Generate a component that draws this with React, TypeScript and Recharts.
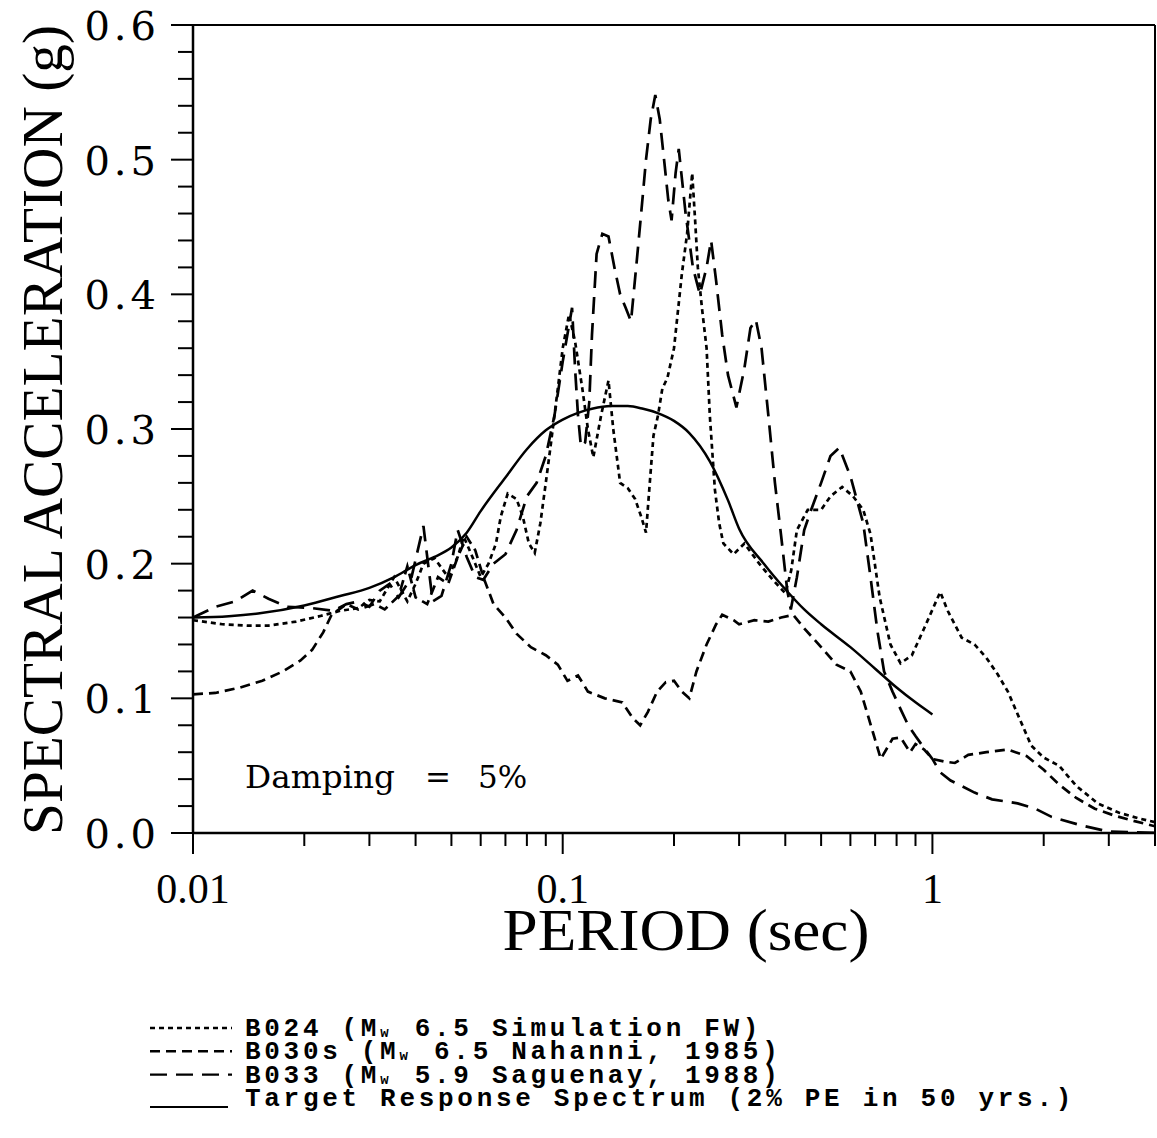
import React from 'react'
import { LineChart, Line, XAxis, YAxis, ReferenceLine, Customized } from 'recharts'

const W = 1157
const H = 1138

// B024 (Mw 6.5 Simulation FW) - dotted
const b024Period = [
  0.01, 0.012, 0.014, 0.016, 0.019, 0.022, 0.025, 0.028, 0.03, 0.032,
  0.035, 0.038, 0.04, 0.042, 0.045, 0.049, 0.052, 0.054, 0.057, 0.06,
  0.063, 0.066, 0.068, 0.071, 0.075, 0.078, 0.081, 0.084, 0.087, 0.09,
  0.093, 0.097, 0.1, 0.104, 0.108, 0.113, 0.117, 0.121, 0.127, 0.133,
  0.137, 0.143, 0.15, 0.157, 0.163, 0.168, 0.172, 0.176, 0.181, 0.186,
  0.192, 0.2, 0.21, 0.217, 0.224, 0.228, 0.232, 0.238, 0.245, 0.25,
  0.258, 0.265, 0.272, 0.29, 0.31, 0.34, 0.37, 0.4, 0.415, 0.43,
  0.46, 0.5, 0.53, 0.57, 0.61, 0.65, 0.68, 0.72, 0.77, 0.82,
  0.88, 0.95, 1.05, 1.1, 1.2, 1.3, 1.4, 1.5, 1.6, 1.72,
  1.85, 2.0, 2.2, 2.45, 2.8, 3.2, 3.6, 4.0,
]
const b024Sa = [
  0.158, 0.155, 0.154, 0.154, 0.157, 0.161, 0.165, 0.167, 0.173, 0.172,
  0.19, 0.172, 0.185, 0.2, 0.204, 0.19, 0.205, 0.22, 0.205, 0.19,
  0.2, 0.215, 0.235, 0.252, 0.248, 0.235, 0.215, 0.208, 0.23, 0.26,
  0.29, 0.33, 0.36, 0.385, 0.365, 0.33, 0.3, 0.279, 0.31, 0.336,
  0.3, 0.26, 0.256, 0.248, 0.235, 0.223, 0.26, 0.295, 0.31, 0.33,
  0.338, 0.36, 0.415, 0.445, 0.49, 0.456, 0.42, 0.39, 0.36, 0.31,
  0.255, 0.23, 0.215, 0.207, 0.215, 0.2, 0.188, 0.178, 0.195, 0.225,
  0.24, 0.24, 0.25, 0.257, 0.25, 0.24, 0.222, 0.175, 0.14, 0.126,
  0.132, 0.152, 0.179, 0.165, 0.145, 0.14, 0.13, 0.118, 0.105, 0.085,
  0.065, 0.056, 0.05, 0.035, 0.022, 0.015, 0.011, 0.008,
]

// B030s (Mw 6.5 Nahanni, 1985) - medium dashes
const b030Period = [
  0.01, 0.0115, 0.0134, 0.0154, 0.0175, 0.0195, 0.021, 0.0225, 0.0237, 0.026,
  0.028, 0.031, 0.033, 0.036, 0.038, 0.04, 0.043, 0.046, 0.049, 0.052,
  0.055, 0.058, 0.061, 0.065, 0.07, 0.075, 0.082, 0.09, 0.097, 0.103,
  0.11, 0.117, 0.13, 0.145, 0.155, 0.162, 0.17, 0.18, 0.19, 0.2,
  0.21, 0.22, 0.23, 0.245, 0.26, 0.27, 0.29, 0.3, 0.33, 0.36,
  0.39, 0.42, 0.45, 0.5, 0.55, 0.6, 0.64, 0.69, 0.725, 0.78,
  0.82, 0.87, 0.9, 0.95, 1.0, 1.08, 1.15, 1.25, 1.4, 1.6,
  1.8, 2.0, 2.2, 2.45, 2.75, 3.1, 3.5, 4.0,
]
const b030Sa = [
  0.103, 0.104, 0.108, 0.113, 0.12, 0.128, 0.136, 0.149, 0.162, 0.17,
  0.166, 0.17, 0.166, 0.176, 0.198, 0.175, 0.17, 0.19, 0.185, 0.205,
  0.22, 0.21, 0.19, 0.17, 0.16, 0.148, 0.138, 0.132, 0.125, 0.113,
  0.117, 0.105, 0.1, 0.097, 0.085, 0.08, 0.09, 0.105, 0.112, 0.113,
  0.105, 0.1, 0.12, 0.14, 0.155, 0.162, 0.158, 0.155, 0.158, 0.157,
  0.16, 0.162, 0.152, 0.138, 0.125, 0.12, 0.105, 0.075, 0.055, 0.07,
  0.071, 0.06, 0.066, 0.062, 0.055, 0.053, 0.052, 0.058, 0.06, 0.062,
  0.057, 0.047, 0.036, 0.026, 0.018, 0.013, 0.009, 0.005,
]

// B033 (Mw 5.9 Saguenay, 1988) - long dashes
const b033Period = [
  0.01, 0.0115, 0.013, 0.0145, 0.016, 0.018, 0.021, 0.024, 0.026, 0.028,
  0.03, 0.032, 0.034, 0.036, 0.039, 0.042, 0.0445, 0.047, 0.05, 0.052,
  0.055, 0.058, 0.061, 0.065, 0.07, 0.075, 0.08, 0.085, 0.09, 0.095,
  0.1, 0.106, 0.108, 0.11, 0.112, 0.115, 0.118, 0.12, 0.1235, 0.128,
  0.133, 0.138, 0.143, 0.148, 0.153, 0.158, 0.163, 0.168, 0.173, 0.178,
  0.183, 0.188, 0.193, 0.197, 0.202, 0.206, 0.215, 0.225, 0.235, 0.245,
  0.252, 0.26, 0.27, 0.28, 0.295, 0.31, 0.322, 0.333, 0.345, 0.36,
  0.375, 0.39, 0.405, 0.414, 0.43, 0.45, 0.47, 0.5, 0.53, 0.56,
  0.6, 0.65, 0.68, 0.71, 0.74, 0.78, 0.82, 0.86, 0.9, 0.95,
  1.0, 1.05, 1.12, 1.3, 1.45, 1.7, 1.9, 2.1, 2.5, 3.0, 4.0,
]
const b033Sa = [
  0.16, 0.168, 0.172, 0.18, 0.174, 0.168, 0.167, 0.165, 0.17, 0.172,
  0.168, 0.18, 0.185, 0.175, 0.19, 0.228, 0.172, 0.176, 0.2, 0.225,
  0.205, 0.19, 0.188, 0.2, 0.207, 0.225, 0.25, 0.26, 0.28, 0.31,
  0.35, 0.39, 0.345, 0.31, 0.287, 0.29, 0.32, 0.37, 0.43, 0.445,
  0.443, 0.42, 0.4, 0.39, 0.38, 0.42, 0.46, 0.5, 0.53, 0.548,
  0.53, 0.5, 0.47, 0.455, 0.49, 0.508, 0.46, 0.42, 0.4, 0.42,
  0.44, 0.41, 0.37, 0.34, 0.316, 0.345, 0.375, 0.381, 0.36, 0.31,
  0.26, 0.22, 0.18, 0.166, 0.19, 0.225, 0.24, 0.26, 0.28, 0.286,
  0.265, 0.23, 0.19, 0.15, 0.12, 0.105, 0.092, 0.08, 0.072, 0.063,
  0.055, 0.045, 0.039, 0.03, 0.025, 0.022, 0.018, 0.012, 0.006, 0.001, 0.0,
]

// Target Response Spectrum (2% PE in 50 yrs.) - solid
const targetPeriod = [
  0.01, 0.0125, 0.015, 0.02, 0.025, 0.03, 0.035, 0.04, 0.045, 0.05,
  0.055, 0.06, 0.07, 0.08, 0.09, 0.1, 0.11, 0.12, 0.135, 0.15,
  0.165, 0.18, 0.2, 0.22, 0.25, 0.28, 0.3, 0.35, 0.4, 0.45,
  0.5, 0.6, 0.7, 0.8, 0.9, 1.0,
]
const targetSa = [
  0.16, 0.161, 0.163, 0.169, 0.176, 0.182, 0.19, 0.199, 0.205, 0.212,
  0.223, 0.239, 0.264, 0.285, 0.299, 0.307, 0.312, 0.315, 0.317, 0.317,
  0.315, 0.312, 0.306, 0.297, 0.276, 0.247, 0.226, 0.2, 0.181, 0.166,
  0.155, 0.138, 0.122, 0.108, 0.097, 0.088,
]

const xTickValues = [
  0.01, 0.02, 0.03, 0.04, 0.05, 0.06, 0.07, 0.08, 0.09,
  0.1, 0.2, 0.3, 0.4, 0.5, 0.6, 0.7, 0.8, 0.9,
  1, 2, 3, 4,
]
const xTickLabels: Record<string, string> = { '0.01': '0.01', '0.1': '0.1', '1': '1' }
const yTickValues = Array.from({ length: 31 }, (_, i) => Number((i * 0.02).toFixed(2)))

const legendNames = [
  { id: 'B024 (M', rest: ' 6.5 Simulation FW)', dash: '5 4' },
  { id: 'B030s (M', rest: ' 6.5 Nahanni, 1985)', dash: '10 6' },
  { id: 'B033 (M', rest: ' 5.9 Saguenay, 1988)', dash: '17 9' },
]
const targetName = 'Target Response Spectrum (2% PE in 50 yrs.)'

const toRows = (p: number[], v: number[]) => p.map((period, i) => ({ period, sa: v[i] }))

const b024 = toRows(b024Period, b024Sa)
const b030 = toRows(b030Period, b030Sa)
const b033 = toRows(b033Period, b033Sa)
const target = toRows(targetPeriod, targetSa)

const XTick = (props: any) => {
  const { x, y, payload } = props
  const label = xTickLabels[String(payload.value)]
  return (
    <g>
      <line x1={x} y1={y} x2={x} y2={y + (label ? 21 : 13)} stroke="#000" strokeWidth={2} />
      {label && (
        <text x={x} y={y + 70} textAnchor="middle" fontFamily="Liberation Serif" fontSize={42} fill="#000">
          {label}
        </text>
      )}
    </g>
  )
}

const YTick = (props: any) => {
  const { x, y, payload } = props
  const v = payload.value as number
  const major = Math.abs(v * 10 - Math.round(v * 10)) < 1e-6
  return (
    <g>
      <line x1={x} y1={y} x2={x - (major ? 22 : 15)} y2={y} stroke="#000" strokeWidth={2} />
      {major && (
        <text x={160} y={y + 15} textAnchor="end" fontFamily="DejaVu Serif" fontSize={40} letterSpacing={4} fill="#000">
          {v.toFixed(1)}
        </text>
      )}
    </g>
  )
}

const Titles = () => (
  <g fill="#000">
    <text
      transform="translate(62,430) rotate(-90)"
      textAnchor="middle"
      fontFamily="Liberation Serif"
      fontSize={58}
      textLength={810}
      lengthAdjust="spacingAndGlyphs"
    >
      SPECTRAL ACCELERATION (g)
    </text>
    <text
      x={686}
      y={950}
      textAnchor="middle"
      fontFamily="Liberation Serif"
      fontSize={60}
      textLength={367}
      lengthAdjust="spacingAndGlyphs"
    >
      PERIOD (sec)
    </text>
    <text x={245} y={788} fontFamily="DejaVu Serif" fontSize={31} textLength={150} lengthAdjust="spacingAndGlyphs">
      Damping
    </text>
    <text x={425} y={788} fontFamily="DejaVu Serif" fontSize={31}>=</text>
    <text x={478} y={788} fontFamily="DejaVu Serif" fontSize={31}>5%</text>
  </g>
)

// monospace legend: one cell = 0.6 * size + spacing
const LEG_SIZE = 26
const LEG_SPACING = 3.7
const CELL = 0.6 * LEG_SIZE + LEG_SPACING
const SUB_SIZE = 14
const SUB_CELL = 0.6 * SUB_SIZE + LEG_SPACING

const LegendBlock = () => {
  const font = { fontFamily: 'Liberation Mono', fontWeight: 700, fontSize: LEG_SIZE, letterSpacing: LEG_SPACING }
  return (
    <svg width={W} height={H} style={{ position: 'absolute', left: 0, top: 0, pointerEvents: 'none' }}>
      {legendNames.map((s, i) => {
        const base = 1036 + i * 23.3
        return (
          <g key={s.id}>
            <line x1={150} x2={232} y1={base - 8} y2={base - 8} stroke="#000" strokeWidth={2.4} strokeDasharray={s.dash} />
            <text x={245} y={base} {...font} fill="#000">
              {s.id}
              <tspan fontSize={SUB_SIZE} dy={1}>w</tspan>
              <tspan dy={-1} dx={CELL - SUB_CELL - 4}>{s.rest}</tspan>
            </text>
          </g>
        )
      })}
      <line x1={150} x2={228} y1={1107} y2={1107} stroke="#000" strokeWidth={2.2} />
      <text x={245} y={1106} {...font} fill="#000">{targetName}</text>
    </svg>
  )
}

export default function App() {
  return (
    <div style={{ position: 'absolute', left: 0, top: 0, width: W, height: H, background: '#fff' }}>
      <LineChart width={W} height={H} margin={{ top: 25, right: 2, bottom: 304, left: 192 }}>
        <XAxis
          dataKey="period"
          type="number"
          scale="log"
          domain={[0.01, 4]}
          allowDataOverflow
          ticks={xTickValues}
          interval={0}
          height={1}
          tickSize={0}
          tickMargin={0}
          tickLine={false}
          axisLine={{ stroke: '#000', strokeWidth: 2.5 }}
          tick={<XTick />}
        />
        <YAxis
          type="number"
          domain={[0, 0.6]}
          allowDataOverflow
          ticks={yTickValues}
          interval={0}
          width={1}
          tickSize={0}
          tickMargin={0}
          tickLine={false}
          axisLine={{ stroke: '#000', strokeWidth: 2.5 }}
          tick={<YTick />}
        />
        <ReferenceLine y={0.6} stroke="#000" strokeWidth={2} />
        <ReferenceLine x={4} stroke="#000" strokeWidth={2} />
        <Line data={b024} dataKey="sa" type="linear" stroke="#000" strokeWidth={2.7} strokeDasharray="5 4" dot={false} isAnimationActive={false} />
        <Line data={b030} dataKey="sa" type="linear" stroke="#000" strokeWidth={2.7} strokeDasharray="10 6" dot={false} isAnimationActive={false} />
        <Line data={b033} dataKey="sa" type="linear" stroke="#000" strokeWidth={2.7} strokeDasharray="17 9" dot={false} isAnimationActive={false} />
        <Line data={target} dataKey="sa" type="monotone" stroke="#000" strokeWidth={2.5} dot={false} isAnimationActive={false} />
        <Customized component={Titles} />
      </LineChart>
      <LegendBlock />
    </div>
  )
}
